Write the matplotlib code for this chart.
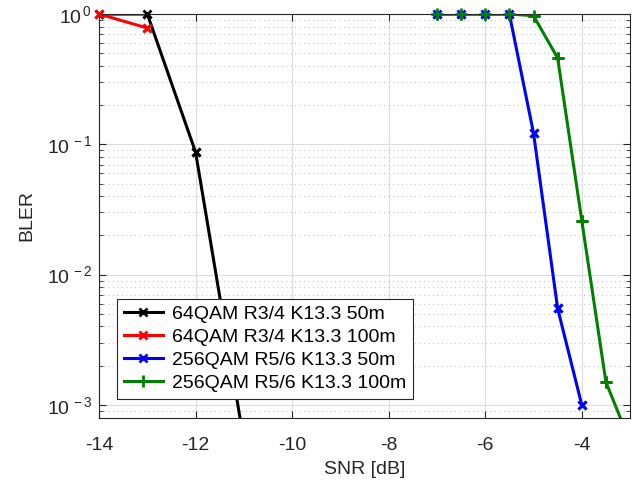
import matplotlib.pyplot as plt
from matplotlib.ticker import FuncFormatter
import numpy as np

plt.rcParams['font.family'] = ['Liberation Sans', 'DejaVu Sans']
plt.rcParams['mathtext.fontset'] = 'custom'
plt.rcParams['mathtext.rm'] = 'Liberation Sans'
plt.rcParams['mathtext.it'] = 'Liberation Sans'
plt.rcParams['axes.unicode_minus'] = False

# SNR [dB] ve BLER değerleri
snr_64 = [-14, -13, -12, -11]
bler_64_50m = [1.0, 1.0, 0.087, 5.3e-4]

snr_64_100 = [-14, -13]
bler_64_100m = [1.0, 0.78]

snr_256 = [-7, -6.5, -6, -5.5, -5, -4.5, -4]
bler_256_50m = [1.0, 1.0, 1.0, 1.0, 0.122, 0.0055, 0.001]

snr_256_100 = [-7, -6.5, -6, -5.5, -5, -4.5, -4, -3.5, -3]
bler_256_100m = [1.0, 1.0, 1.0, 1.0, 0.97, 0.46, 0.026, 0.0015, 5.2e-4]

etiketler = ['64QAM R3/4 K13.3 50m', '64QAM R3/4 K13.3 100m',
             '256QAM R5/6 K13.3 50m', '256QAM R5/6 K13.3 100m']

fig = plt.figure(figsize=(6.39, 4.83), dpi=100)
ax = fig.add_axes([0.155, 0.1346, 0.831, 0.8364])

y_alt = 10 ** -3.1

seriler = [
    (snr_64, bler_64_50m, 'black', 'x', 6),
    (snr_64_100, bler_64_100m, 'red', 'x', 6),
    (snr_256, bler_256_50m, 'blue', 'x', 6),
    (snr_256_100, bler_256_100m, 'green', '+', 9),
]
for (x, y, renk, isaret, boy), etiket in zip(seriler, etiketler):
    ax.semilogy(x, y, color=renk, marker=isaret, lw=2.2, ms=boy, mew=2, label=etiket)
    # kenardaki işaretler kesilmesin
    x, y = np.array(x), np.array(y)
    m = y >= y_alt
    ax.semilogy(x[m], y[m], ls='none', color=renk, marker=isaret, ms=boy, mew=2,
                clip_on=False, zorder=3)

ax.set_xlim(-14, -3)
ax.set_ylim(y_alt, 1)
ax.set_xticks([-14, -12, -10, -8, -6, -4])
ax.yaxis.set_major_formatter(FuncFormatter(
    lambda v, p: r'$\mathregular{10^{\,%d}}$' % round(np.log10(v))))
ax.set_xlabel('SNR [dB]', fontsize=14, color='#262626', labelpad=5)
ax.set_ylabel('BLER', fontsize=14, color='#262626', labelpad=8)

ax.grid(True, which='major', color='#dcdcdc', lw=0.8, ls='-')
ax.grid(True, which='minor', axis='y', color='#c8c8c8', lw=0.8, ls=(0, (1, 3)))
ax.minorticks_on()
ax.xaxis.set_minor_locator(plt.NullLocator())
ax.tick_params(which='both', direction='in', top=True, right=True,
               colors='#262626', labelsize=14)
ax.tick_params(which='major', length=5)
ax.tick_params(which='minor', length=3)
ax.tick_params(axis='x', pad=14)
ax.tick_params(axis='y', pad=5, labelsize=14)
for s in ax.spines.values():
    s.set_color('#262626')
    s.set_linewidth(0.8)

leg = ax.legend(loc='lower left', bbox_to_anchor=(0.034, 0.047), fontsize=14,
                fancybox=False, framealpha=1, edgecolor='#262626',
                handlelength=2.0, handletextpad=0.45, borderpad=0.35,
                labelspacing=0.28, borderaxespad=0)
leg.get_frame().set_linewidth(0.8)
leg.set_zorder(5)

fig.savefig('out.png', dpi=100)
